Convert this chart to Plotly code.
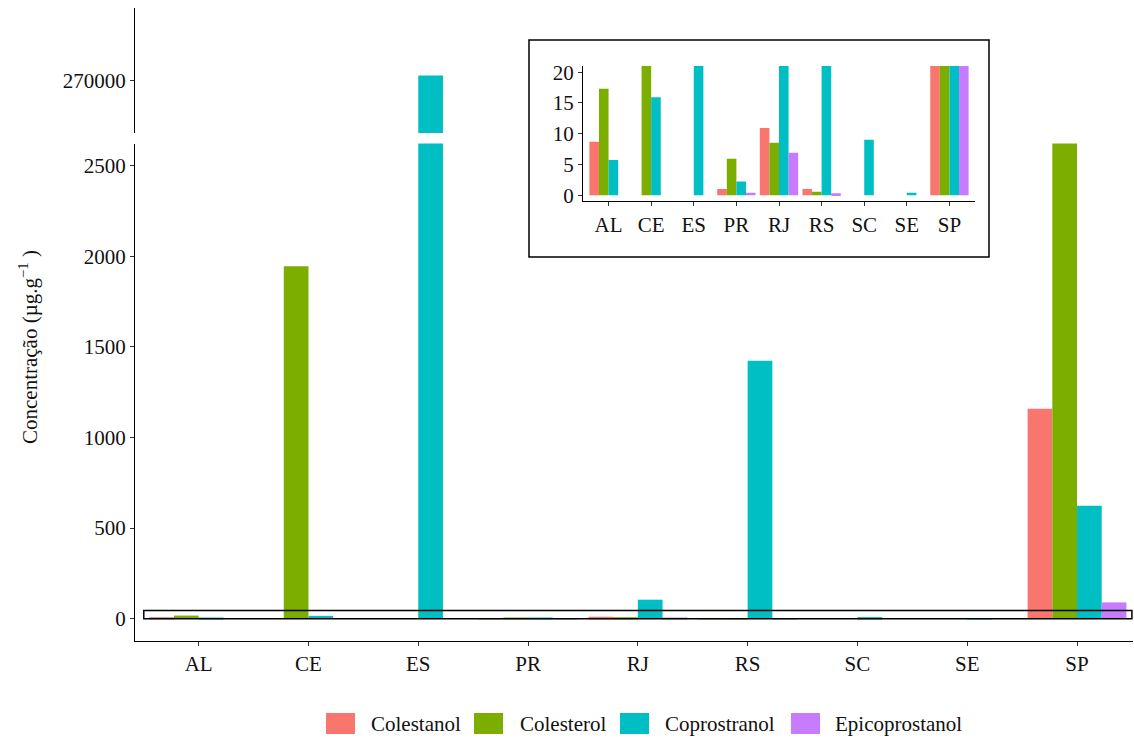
import plotly.graph_objects as go

# Sterol concentrations by state (µg/g)
categories = ["AL", "CE", "ES", "PR", "RJ", "RS", "SC", "SE", "SP"]
colestanol = [8.7, 0, 0, 1.0, 10.9, 1.0, 0, 0, 1159]
colesterol = [17.3, 1945, 0, 5.9, 8.5, 0.55, 0, 0, 2700]
coprostranol = [5.7, 15.9, 270400, 2.2, 105, 1424, 9.0, 0.4, 624]
epicoprostanol = [0, 0, 0, 0.4, 6.9, 0.3, 0, 0, 90]

series_names = ["Colestanol", "Colesterol", "Coprostranol", "Epicoprostanol"]
series_values = [colestanol, colesterol, coprostranol, epicoprostanol]
colors = ["#F8766D", "#7CAE00", "#00BFC4", "#C77CFF"]

lower_ticks = [0, 500, 1000, 1500, 2000, 2500]
upper_ticks = [270000]
inset_ticks = [0, 5, 10, 15, 20]

W, H = 1134, 738
FONT = "Liberation Serif"
TEXT_COLOR = "#111111"
xpos = list(range(1, len(categories) + 1))


def px_x(v):
    return v / W


def px_y(v):
    return 1 - v / H


fig = go.Figure()

# lower panel, upper (broken) panel, and zoomed inset share the same data
for axes in [("x", "y"), ("x2", "y2"), ("x3", "y3")]:
    for name, vals, col in zip(series_names, series_values, colors):
        fig.add_trace(go.Bar(
            x=xpos, y=vals, name=name, xaxis=axes[0], yaxis=axes[1],
            marker=dict(color=col, line=dict(width=0)),
            showlegend=False, hoverinfo="skip",
        ))

axis_common = dict(
    showline=True, linecolor="black", linewidth=1.3,
    ticks="outside", ticklen=4, tickwidth=1.1, tickcolor="#333333",
    showgrid=False, zeroline=False, automargin=False,
    tickfont=dict(family=FONT, size=21, color=TEXT_COLOR),
)

main_xdom = [px_x(135), px_x(1133)]

fig.update_layout(
    template="none",
    width=W, height=H,
    margin=dict(l=0, r=0, t=0, b=0, pad=0),
    paper_bgcolor="white", plot_bgcolor="white",
    barmode="group", bargap=0.1, bargroupgap=0,
    showlegend=False,
    xaxis=dict(domain=main_xdom, range=[0.42, 9.51], anchor="y",
               tickvals=xpos, ticktext=categories, **axis_common),
    yaxis=dict(domain=[px_y(641), px_y(143.5)], range=[-123, 2623], anchor="x",
               tickvals=lower_ticks, tickformat="d", **axis_common),
    xaxis2=dict(domain=main_xdom, range=[0.42, 9.51], anchor="y2",
                showline=False, showticklabels=False, ticks="",
                showgrid=False, zeroline=False, automargin=False),
    yaxis2=dict(domain=[px_y(133), px_y(8)], range=[265800, 275800], anchor="x2",
                tickvals=upper_ticks, tickformat="d", **axis_common),
    xaxis3=dict(domain=[px_x(583), px_x(975)], range=[0.4, 9.6], anchor="y3",
                tickvals=xpos, ticktext=categories, **axis_common),
    yaxis3=dict(domain=[px_y(201.3), px_y(66)], range=[-1, 21], anchor="x3",
                tickvals=inset_ticks, tickformat="d", **axis_common),
)

shapes = [
    # frame around the inset
    dict(type="rect", xref="paper", yref="paper",
         x0=px_x(529), x1=px_x(989), y0=px_y(257), y1=px_y(40),
         line=dict(color="black", width=1.5), fillcolor="rgba(0,0,0,0)"),
    # region of the main plot shown in the inset
    dict(type="rect", xref="x", yref="y", x0=0.5, x1=9.5, y0=0, y1=46,
         line=dict(color="black", width=1.5), fillcolor="rgba(0,0,0,0)",
         layer="above"),
]

annotations = [
    dict(text="Concentração (µg.g<sup>−1</sup> )", xref="paper", yref="paper",
         x=px_x(29), y=px_y(347), textangle=-90, showarrow=False,
         xanchor="center", yanchor="middle",
         font=dict(family=FONT, size=21, color=TEXT_COLOR)),
]

# legend along the bottom
legend_sq_x = [326, 474, 620, 791]
legend_txt_x = [369, 518, 663, 833]
for name, col, sx, tx in zip(series_names, colors, legend_sq_x, legend_txt_x):
    shapes.append(dict(type="rect", xref="paper", yref="paper",
                       x0=px_x(sx), x1=px_x(sx + 29), y0=px_y(734), y1=px_y(713),
                       line=dict(width=0), fillcolor=col))
    annotations.append(dict(text=name, xref="paper", yref="paper",
                            x=px_x(tx), y=px_y(724), showarrow=False,
                            xanchor="left", yanchor="middle",
                            font=dict(family=FONT, size=21, color=TEXT_COLOR)))

fig.update_layout(shapes=shapes, annotations=annotations)

fig.write_html("out.html")
